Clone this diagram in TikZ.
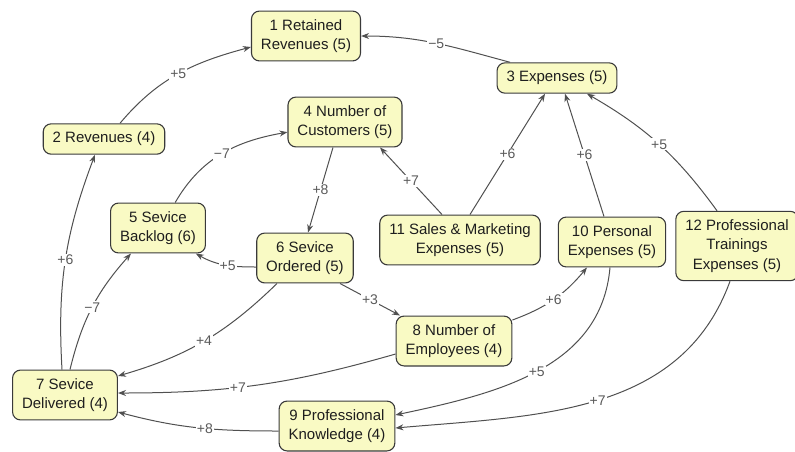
\documentclass[tikz,border=0pt]{standalone}
\usepackage{fontspec}
\setmainfont{Liberation Sans}
\usetikzlibrary{arrows.meta, positioning}
\usepackage{xcolor}
\definecolor{cBoxFill}{HTML}{F9FAC4}
\definecolor{cBoxLine}{HTML}{3A3A3A}
\definecolor{cText}{HTML}{1E1E1E}
\definecolor{cLink}{HTML}{505050}
\definecolor{cLabel}{HTML}{5A5A5A}
\tikzset{
  factorbox/.style={
    draw=cBoxLine, fill=cBoxFill, rounded corners=8pt,
    font=\fontsize{15}{19.5}\selectfont, text=cText, line width=1.1pt,
    align=center, inner xsep=9.5pt, inner ysep=8.2pt,
  },
  link/.style={-{Stealth[length=8pt, width=6pt]}, line width=1pt, color=cLink},
  wt/.style={fill=white, inner sep=1pt, font=\fontsize{14}{14}\selectfont, text=cLabel},
}
\begin{document}
\begin{tikzpicture}[x=1pt, y=1pt]
  \useasboundingbox (0,0) rectangle (795,-451);

  \node[factorbox] (retrev) at (306,-36) {1 Retained\\Revenues (5)};
  \node[factorbox] (revs) at (104,-139) {2 Revenues (4)};
  \node[factorbox] (exps) at (557,-78) {3 Expenses (5)};
  \node[factorbox] (cust) at (345,-122) {4 Number of\\Customers (5)};
  \node[factorbox] (backlog) at (158,-228) {5 Sevice\\Backlog (6)};
  \node[factorbox] (ordered) at (305,-258) {6 Sevice\\Ordered (5)};
  \node[factorbox] (delivered) at (65,-395) {7 Sevice\\Delivered (4)};
  \node[factorbox] (empl) at (454,-341) {8 Number of\\Employees (4)};
  \node[factorbox] (know) at (337,-426) {9 Professional\\Knowledge (4)};
  \node[factorbox] (persexp) at (612,-242) {10 Personal\\Expenses (5)};
  \node[factorbox] (salesexp) at (460,-240) {11 Sales \& Marketing\\Expenses (5)};
  \node[factorbox] (trainexp) at (737,-246) {12 Professional\\Trainings\\Expenses (5)};

  % upper part
  \draw[link] ([xshift=-47pt]exps.north) to[out=165, in=0] node[wt] {−5} (retrev.east);
  \draw[link] ([xshift=16pt]revs.north) to[out=50, in=195] node[wt] {+5} ([yshift=-11pt]retrev.west);
  \draw[link] (backlog.56) to[out=60, in=190] node[wt] {−7} (cust.190);
  \draw[link] ([xshift=-12pt]cust.south) -- node[wt] {+8} ([xshift=3pt]ordered.north);
  \draw[link] ([xshift=-18pt]salesexp.north) -- node[wt] {+7} ([xshift=35pt]cust.south);
  \draw[link] ([xshift=10pt]salesexp.north) -- node[wt] {+6} ([xshift=-12pt]exps.south);
  \draw[link] ([xshift=-8pt]persexp.north) -- node[wt] {+6} ([xshift=8pt]exps.south);
  \draw[link] ([xshift=-20pt]trainexp.north) to[bend right=12] node[wt] {+5} ([xshift=30pt]exps.south);

  % middle part
  \draw[link] ([yshift=-9pt]ordered.west) to[out=180, in=-30] node[wt, pos=0.45] {+5} (backlog.-34);
  \draw[link] ([xshift=35pt]ordered.south) -- node[wt] {+3} ([xshift=-54pt]empl.north);
  \draw[link] ([yshift=21pt]empl.east) to[bend right=15] node[wt] {+6} ([xshift=-25pt]persexp.south);
  \draw[link] ([xshift=-28pt]ordered.south) to[bend left=14] node[wt] {+4} ([yshift=19pt]delivered.east);
  \draw[link] ([yshift=-13pt]empl.west) to[bend left=8] node[wt, pos=0.58] {+7} ([yshift=2pt]delivered.east);

  % lower part
  \draw[link] ([xshift=-3pt]delivered.north) to[bend left=12] node[wt] {+6} ([xshift=-9pt]revs.south);
  \draw[link] ([xshift=5pt]delivered.north) to[bend left=14] node[wt] {−7} ([xshift=-27pt]backlog.south);
  \draw[link] ([yshift=-5pt]know.west) to[out=180, in=-15] node[wt, pos=0.45] {+8} ([yshift=-17pt]delivered.east);
  \draw[link] ([xshift=-2pt]persexp.south) to[out=-95, in=12] node[wt] {+5} ([yshift=11pt]know.east);
  \draw[link] ([xshift=-7pt]trainexp.south) to[out=-110, in=5] node[wt] {+7} ([yshift=-2pt]know.east);

\end{tikzpicture}
\end{document}
